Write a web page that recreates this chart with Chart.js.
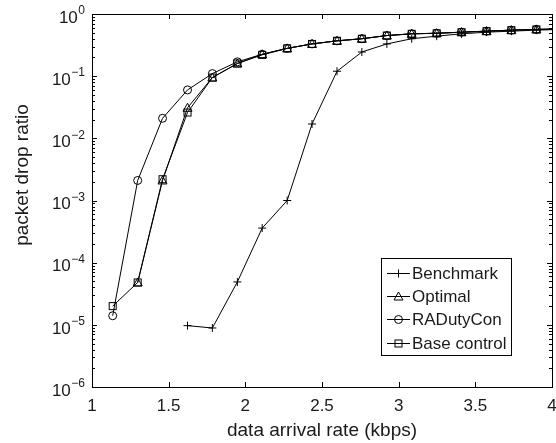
<!DOCTYPE html>
<html>
<head>
<meta charset="utf-8">
<script src="https://cdn.jsdelivr.net/npm/chart.js@4"></script>
<style>
  html, body { margin: 0; padding: 0; background: #fff; }
  #wrap { width: 556px; height: 443px; }
</style>
</head>
<body>
<div id="wrap"><canvas id="chart" width="556" height="443"></canvas></div>
<script>
const xRate = [1.135, 1.298, 1.46, 1.623, 1.785, 1.948, 2.11, 2.273, 2.435, 2.598, 2.76, 2.923, 3.085, 3.248, 3.41, 3.573, 3.735, 3.898, 4.06];

const benchmark = [null, null, null, 9.7e-6, 8.9e-6, 4.9e-5, 3.6e-4, 1.0e-3, 0.017, 0.12, 0.245, 0.33, 0.40, 0.44, 0.48, 0.51, 0.53, 0.55, 0.565];
const optimal = [null, 4.8e-5, 2.1e-3, 0.031, 0.095, 0.16, 0.225, 0.28, 0.33, 0.37, 0.40, 0.45, 0.48, 0.49, 0.51, 0.53, 0.55, 0.565, 0.575];
const raDutyCon = [1.4e-5, 2.1e-3, 0.021, 0.060, 0.11, 0.17, 0.225, 0.28, 0.33, 0.37, 0.40, 0.45, 0.48, 0.49, 0.51, 0.53, 0.55, 0.565, 0.575];
const baseControl = [2.0e-5, 4.8e-5, 2.2e-3, 0.026, 0.095, 0.16, 0.22, 0.28, 0.33, 0.37, 0.40, 0.45, 0.48, 0.49, 0.51, 0.53, 0.55, 0.565, 0.575];

const xTicks = [1, 1.5, 2, 2.5, 3, 3.5, 4];
const yDecades = [0, -1, -2, -3, -4, -5, -6];

const FONT = "'Liberation Sans', Arial, Helvetica, sans-serif";
const INK = "#1a1a1a";

// marker drawers (unfilled, MATLAB style)
const plusMarker = (ctx, x, y) => {
  ctx.beginPath();
  ctx.moveTo(x - 4, y); ctx.lineTo(x + 4, y);
  ctx.moveTo(x, y - 4); ctx.lineTo(x, y + 4);
  ctx.stroke();
};
const triMarker = (ctx, x, y) => {
  ctx.beginPath();
  ctx.moveTo(x, y - 4.5); ctx.lineTo(x + 4.5, y + 3.5); ctx.lineTo(x - 4.5, y + 3.5);
  ctx.closePath();
  ctx.stroke();
};
const circMarker = (ctx, x, y) => {
  ctx.beginPath();
  ctx.arc(x, y, 4, 0, Math.PI * 2);
  ctx.stroke();
};
const sqMarker = (ctx, x, y) => {
  ctx.strokeRect(x - 3.5, y - 3.5, 7, 7);
};

const series = [
  { label: "Benchmark", values: benchmark, marker: plusMarker },
  { label: "Optimal", values: optimal, marker: triMarker },
  { label: "RADutyCon", values: raDutyCon, marker: circMarker },
  { label: "Base control", values: baseControl, marker: sqMarker },
];

const toPoints = (vals) => xRate.map((x, i) => ({ x, y: vals[i] })).filter((p) => p.y !== null);

// draws markers, frame, inward ticks, y labels with superscripts, titles and legend
const matlabLook = {
  id: "matlabLook",
  afterDatasetsDraw(chart) {
    const { ctx, chartArea: a, scales } = chart;
    const xs = scales.x, ys = scales.y;
    ctx.save();
    ctx.beginPath();
    ctx.rect(a.left, a.top, a.right - a.left, a.bottom - a.top);
    ctx.clip();
    ctx.strokeStyle = "#000";
    ctx.lineWidth = 1;
    chart.data.datasets.forEach((ds, i) => {
      ds.data.forEach((p) => {
        const px = xs.getPixelForValue(p.x), py = ys.getPixelForValue(p.y);
        series[i].marker(ctx, px, py);
      });
    });
    ctx.restore();
  },
  afterDraw(chart) {
    const { ctx, chartArea: a, scales } = chart;
    const xs = scales.x, ys = scales.y;
    ctx.save();
    ctx.strokeStyle = "#000";
    ctx.lineWidth = 1;
    // frame
    ctx.strokeRect(Math.round(a.left) + 0.5, Math.round(a.top) + 0.5, Math.round(a.right - a.left), Math.round(a.bottom - a.top));
    // x ticks
    ctx.beginPath();
    xTicks.forEach((t) => {
      const px = Math.round(xs.getPixelForValue(t)) + 0.5;
      ctx.moveTo(px, a.bottom); ctx.lineTo(px, a.bottom - 5);
      ctx.moveTo(px, a.top); ctx.lineTo(px, a.top + 5);
    });
    // y ticks, major + minor
    yDecades.forEach((d) => {
      for (let m = 1; m <= 9; m++) {
        const v = m * Math.pow(10, d);
        if (v > 1.0001 || v < 1e-6 * 0.999) continue;
        const py = Math.round(ys.getPixelForValue(v)) + 0.5;
        const len = m === 1 ? 5 : 3;
        ctx.moveTo(a.left, py); ctx.lineTo(a.left + len, py);
        ctx.moveTo(a.right, py); ctx.lineTo(a.right - len, py);
      }
    });
    ctx.stroke();

    // y tick labels 10^d
    ctx.fillStyle = INK;
    ctx.textBaseline = "middle";
    yDecades.forEach((d) => {
      const py = ys.getPixelForValue(Math.pow(10, d));
      const sup = d === 0 ? "0" : "\u2212" + Math.abs(d);
      ctx.font = "12px " + FONT;
      const supW = ctx.measureText(sup).width;
      const right = 85;
      ctx.textAlign = "left";
      ctx.fillText(sup, right - supW, py - 3);
      ctx.font = "17px " + FONT;
      ctx.textAlign = "right";
      ctx.fillText("10", right - supW - 0.5, py + 4);
    });

    // axis titles
    ctx.font = "19px " + FONT;
    ctx.textAlign = "center";
    ctx.fillText("data arrival rate (kbps)", (a.left + a.right) / 2, 431);
    ctx.save();
    ctx.translate(23, 175);
    ctx.rotate(-Math.PI / 2);
    ctx.fillText("packet drop ratio", 0, 0);
    ctx.restore();

    // legend
    const lx = 381.5, ly = 258.5, lw = 130, lh = 97;
    ctx.fillStyle = "#fff";
    ctx.fillRect(lx, ly, lw, lh);
    ctx.strokeRect(lx, ly, lw, lh);
    ctx.font = "17px " + FONT;
    ctx.textAlign = "left";
    series.forEach((s, i) => {
      const cy = Math.round(273 + i * 23.2) + 0.5;
      ctx.beginPath();
      ctx.moveTo(387, cy); ctx.lineTo(410, cy);
      ctx.stroke();
      s.marker(ctx, 398.5, cy);
      ctx.fillStyle = INK;
      ctx.fillText(s.label, 412, cy + 1);
    });
    ctx.restore();
  },
};

new Chart(document.getElementById("chart"), {
  type: "line",
  data: {
    datasets: series.map((s) => ({
      label: s.label,
      data: toPoints(s.values),
      borderColor: "#000",
      borderWidth: 1,
      pointRadius: 0,
      fill: false,
      tension: 0,
    })),
  },
  options: {
    responsive: false,
    animation: false,
    events: [],
    layout: { padding: { left: 0, right: 4, top: 14, bottom: 0 } },
    plugins: { legend: { display: false }, tooltip: { enabled: false } },
    scales: {
      x: {
        type: "linear",
        min: 1,
        max: 4,
        afterFit: (s) => { s.height = 56; s.paddingLeft = 0; s.paddingRight = 0; },
        afterBuildTicks: (s) => { s.ticks = xTicks.map((v) => ({ value: v })); },
        grid: { display: false, drawTicks: false },
        border: { display: false },
        ticks: {
          color: INK,
          font: { family: FONT, size: 17 },
          padding: 9,
          maxRotation: 0,
          callback: (v) => String(v),
        },
      },
      y: {
        type: "logarithmic",
        min: 1e-6,
        max: 1,
        afterFit: (s) => { s.width = 92; },
        grid: { display: false, drawTicks: false },
        border: { display: false },
        ticks: { display: false },
      },
    },
  },
  plugins: [matlabLook],
});
</script>
</body>
</html>
